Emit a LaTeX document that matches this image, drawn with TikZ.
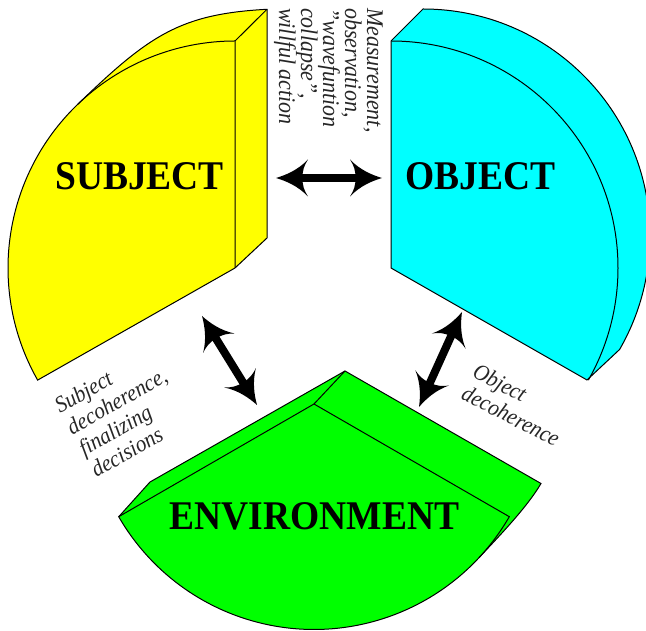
\documentclass[tikz,border=0pt]{standalone}
\usepackage{fontspec}
\setmainfont{Liberation Serif}[FakeStretch=0.92]
\usetikzlibrary{arrows.meta}
\definecolor{pureyellow}{rgb}{1,1,0}
\definecolor{purecyan}{rgb}{0,1,1}
\definecolor{puregreen}{rgb}{0,1,0}
\pgfdeclarearrow{
  name=Barb,
  setup code={
    \pgfarrowssettipend{0pt}
    \pgfarrowssetlineend{-24pt}
    \pgfarrowssetvisualbackend{-32pt}
    \pgfarrowssetbackend{-32pt}
  },
  drawing code={
    \pgfpathmoveto{\pgfqpoint{0pt}{0pt}}
    \pgfpathcurveto{\pgfqpoint{-10pt}{3pt}}{\pgfqpoint{-22pt}{8pt}}{\pgfqpoint{-32pt}{18.5pt}}
    \pgfpathcurveto{\pgfqpoint{-28pt}{12pt}}{\pgfqpoint{-26.5pt}{8pt}}{\pgfqpoint{-26.5pt}{0pt}}
    \pgfpathcurveto{\pgfqpoint{-26.5pt}{-8pt}}{\pgfqpoint{-28pt}{-12pt}}{\pgfqpoint{-32pt}{-18.5pt}}
    \pgfpathcurveto{\pgfqpoint{-22pt}{-8pt}}{\pgfqpoint{-10pt}{-3pt}}{\pgfqpoint{0pt}{0pt}}
    \pgfpathclose
    \pgfusepathqfill
  }
}
\tikzset{
  panel/.style={draw=black,line width=1pt,line join=miter},
  edge line/.style={draw=black,line width=1pt},
  title/.style={font=\fontsize{40.76}{40.76}\selectfont\bfseries,text=black,inner sep=0pt},
  note/.style={font=\fontsize{23.9}{22}\selectfont\itshape,text=black!85,inner sep=0pt,align=left},
  slanted note/.style={note,font=\fontsize{23}{24.5}\selectfont\itshape},
  bothway/.style={{Barb}-{Barb},line width=8pt,draw=black},
}
\begin{document}
\begin{tikzpicture}[x=1pt,y=1pt]
\useasboundingbox (0,0) rectangle (646,631);
% Subject
\path[panel,fill=pureyellow] (267,621.7) .. controls (180,617) and (149.2,595.8) .. ([shift={(235,363)}]134:227)
  arc[start angle=134,end angle=209.6,radius=227pt]
  -- (235,363) -- (267,393) -- cycle;
\draw[edge line] (235,590) arc[start angle=90,end angle=134,radius=227pt];
\draw[edge line] (267,621.7) -- (235,590) -- (235,363);
% Object
\path[panel,fill=purecyan] (391,590) -- (423,622) arc[start angle=90,end angle=-30,radius=227pt]
  -- (587,251) -- (391,363) -- cycle;
\draw[edge line] (391,590) arc[start angle=90,end angle=-29.6,radius=227pt];
% Environment
\path[panel,fill=puregreen] (150,149) -- (345,260) -- (541,147.5) .. controls (527,123.5) and (498,93.7) .. ([shift={(314,227)}]-43:225.5)
  arc[start angle=-43,end angle=-150,radius=225.5pt] -- cycle;
\draw[edge line] (118.7,114.3) -- (314,227) -- (509.3,114.3) arc[start angle=-30,end angle=-43,radius=225.5pt];
\draw[edge line] (314,227) -- (345,260);
% Titles
\node[title,anchor=base west] (subject) at (55,441) {SUBJECT};
\node[title,anchor=base west] (object) at (405,441) {OBJECT};
\node[title,anchor=base west] (environment) at (169.5,101) {ENVIRONMENT};
% Notes
\node[note,rotate=-90,anchor=north west] (measure) at (383,623) {Measurement,\\observation,\\"wavefuntion\\collapse",\\willful action};
\node[slanted note,rotate=29.5,anchor=north west] (subjnote) at (52,231) {Subject\\decoherence,\\finalizing\\decisions};
\node[slanted note,rotate=-27,anchor=north west] (objnote) at (478.5,268.5) {Object\\decoherence};
% Arrows
\coordinate (ms) at (276,453); \coordinate (mo) at (382,453);
\coordinate (es) at (202,315); \coordinate (se) at (257,226);
\coordinate (eo) at (462,319); \coordinate (oe) at (419,224);
\draw[bothway] (ms) -- (mo);
\draw[bothway] (es) -- (se);
\draw[bothway] (eo) -- (oe);
\end{tikzpicture}
\end{document}
